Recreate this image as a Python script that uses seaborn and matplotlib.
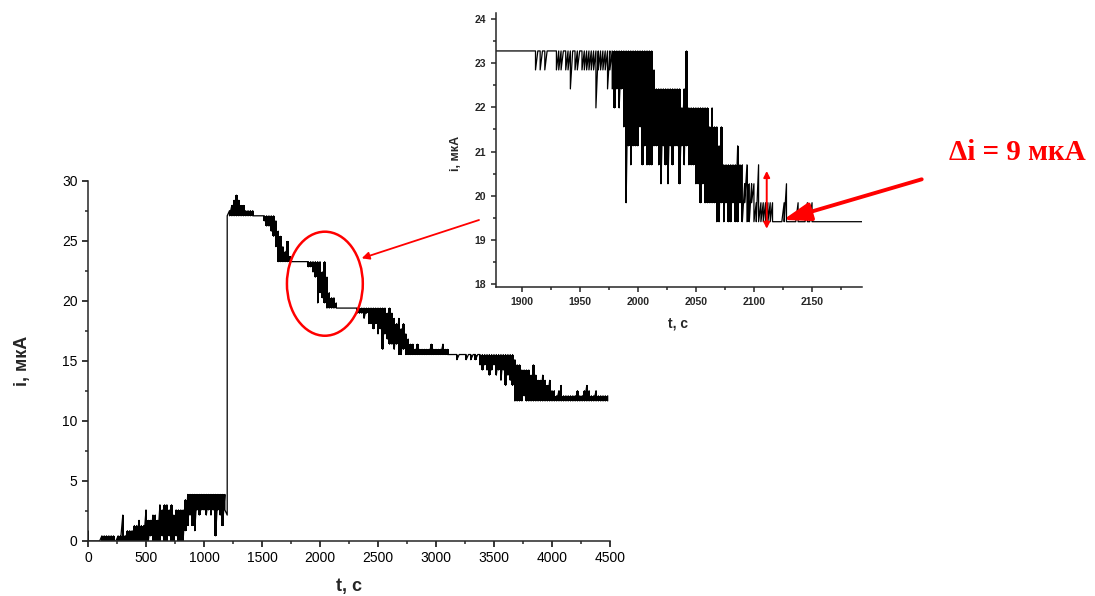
import numpy as np
import pandas as pd
import matplotlib
matplotlib.use("Agg")
import matplotlib.pyplot as plt
from matplotlib.patches import Ellipse
from matplotlib.ticker import MultipleLocator
import seaborn as sns

# main trace: 20 s bins from 0 to 4480 s, two readings per bin (edges of the noise band)
i_a = [0.86, 0, 0, 0, 0, 0, 0.43, 0.43, 0.43, 0.43,
       0.43, 0.43, 0, 0.43, 0.43, 2.16, 0.43, 0.86, 0.86, 0.86,
       1.29, 1.29, 1.72, 1.29, 1.29, 2.59, 1.72, 1.72, 2.16, 2.16,
       1.72, 3.02, 2.59, 3.02, 3.02, 2.59, 3.02, 2.16, 2.59, 2.59,
       2.59, 2.59, 3.45, 3.88, 3.88, 3.88, 3.88, 3.88, 3.88, 3.88,
       3.88, 3.88, 3.88, 3.88, 3.88, 3.88, 3.88, 3.88, 3.88, 3.88,
       2.16, 27.53, 27.96, 28.39, 28.82, 28.39, 27.96, 27.96, 27.53, 27.53,
       27.53, 27.53, 27.1, 27.1, 27.1, 27.1, 27.1, 27.1, 27.1, 27.1,
       27.1, 26.68, 25.82, 25.39, 24.53, 24.10, 24.96, 23.71, 23.28, 23.28,
       23.28, 23.28, 23.28, 23.28, 23.28, 23.28, 23.28, 23.28, 23.28, 23.28,
       23.28, 22.42, 23.28, 21.99, 20.70, 20.27, 20.27, 19.84, 19.41, 19.41,
       19.41, 19.41, 19.41, 19.41, 19.41, 19.41, 19.41, 19.41, 19.41, 19.41,
       19.41, 19.41, 19.41, 19.41, 19.41, 19.41, 19.41, 19.41, 19.41, 18.98,
       19.41, 18.98, 18.55, 18.12, 18.55, 17.69, 18.12, 17.26, 16.83, 16.40,
       16.40, 15.97, 16.40, 15.97, 15.97, 15.97, 15.97, 15.97, 16.40, 15.97,
       15.97, 15.97, 15.97, 16.40, 15.97, 15.97, 15.54, 15.54, 15.54, 15.54,
       15.54, 15.54, 15.54, 15.54, 15.54, 15.54, 15.54, 15.54, 15.54, 15.54,
       15.54, 15.54, 15.54, 15.54, 15.54, 15.54, 15.54, 15.54, 15.54, 15.54,
       15.54, 15.54, 15.54, 15.54, 15.11, 14.68, 14.68, 14.25, 14.25, 14.25,
       14.25, 13.82, 14.68, 13.82, 13.39, 13.39, 13.82, 13.39, 12.96, 13.39,
       12.53, 12.53, 12.10, 12.53, 12.96, 12.10, 12.10, 12.10, 12.10, 12.10,
       12.10, 12.53, 12.10, 12.10, 12.53, 12.96, 12.53, 12.10, 12.10, 12.53,
       12.10, 12.10, 12.10, 12.10, 12.10]
i_b = [0, 0, 0, 0, 0, 0, 0, 0, 0, 0,
       0, 0, 0, 0, 0, 0, 0, 0, 0, 0,
       0, 0, 0, 0, 0, 0, 0, 0.43, 0, 0,
       0, 0, 0.43, 0, 0, 0.43, 0, 0, 0.43, 0,
       0, 0, 0.86, 1.29, 2.16, 1.29, 0.86, 2.59, 2.16, 2.59,
       2.59, 2.16, 2.59, 2.16, 2.59, 0.43, 2.59, 2.16, 1.29, 2.59,
       27.1, 27.1, 27.1, 27.1, 27.1, 27.1, 27.1, 27.1, 27.1, 27.1,
       27.1, 27.1, 27.1, 27.1, 27.1, 27.1, 26.68, 26.25, 26.25, 25.82,
       25.39, 24.53, 23.28, 23.28, 23.28, 23.28, 23.28, 23.28, 23.28, 23.28,
       23.28, 23.28, 23.28, 23.28, 23.28, 22.85, 22.85, 22.42, 21.99, 19.84,
       20.70, 20.27, 19.84, 19.41, 19.41, 19.41, 19.41, 19.41, 19.41, 19.41,
       19.41, 19.41, 19.41, 19.41, 19.41, 19.41, 18.98, 18.98, 18.98, 18.55,
       18.98, 18.12, 18.12, 17.69, 18.12, 17.26, 17.69, 15.97, 17.26, 16.83,
       16.40, 16.40, 15.97, 16.40, 15.54, 15.54, 15.97, 15.54, 15.54, 15.54,
       15.54, 15.54, 15.54, 15.54, 15.54, 15.54, 15.54, 15.54, 15.54, 15.54,
       15.54, 15.54, 15.54, 15.54, 15.54, 15.54, 15.54, 15.54, 15.54, 15.11,
       15.54, 15.54, 15.54, 15.11, 15.54, 15.11, 15.54, 15.11, 15.54, 14.68,
       14.25, 14.68, 14.25, 13.82, 14.25, 14.68, 13.82, 14.25, 13.39, 14.25,
       12.96, 13.82, 13.39, 12.96, 11.67, 11.67, 11.67, 11.67, 12.10, 11.67,
       11.67, 11.67, 11.67, 11.67, 11.67, 11.67, 11.67, 11.67, 11.67, 11.67,
       11.67, 11.67, 11.67, 11.67, 11.67, 11.67, 11.67, 11.67, 11.67, 11.67,
       11.67, 11.67, 11.67, 11.67, 11.67, 11.67, 11.67, 11.67, 11.67, 11.67,
       11.67, 11.67, 11.67, 11.67, 11.67]
t_main = np.arange(0, 4481, 20)

# zoomed window: current levels of the ADC and 2 s bins from 1910 to 2152 s (level indices)
levels = [23.28, 22.85, 22.42, 21.99, 21.56, 21.13, 20.70, 20.27, 19.84, 19.41]
top_idx = [0, 0, 0, 0, 0, 0, 0, 0, 0, 0,
           0, 0, 0, 0, 0, 0, 0, 0, 0, 0,
           0, 0, 0, 0, 0, 0, 0, 0, 0, 0,
           0, 0, 0, 0, 0, 0, 0, 0, 0, 0,
           0, 0, 0, 0, 0, 0, 0, 0, 0, 0,
           0, 0, 1, 2, 2, 2, 2, 2, 2, 2,
           2, 2, 2, 2, 3, 2, 0, 3, 3, 3,
           3, 3, 3, 3, 3, 3, 4, 3, 4, 4,
           5, 4, 6, 6, 6, 6, 6, 6, 5, 6,
           6, 7, 6, 7, 7, 7, 8, 6, 8, 8,
           8, 8, 8, 8, 9, 9, 9, 9, 8, 7,
           9, 9, 9, 9, 8, 9, 9, 9, 8, 9,
           8, 9]
bot_idx = [0, 1, 0, 1, 0, 1, 0, 0, 0, 0,
           1, 1, 1, 0, 1, 1, 2, 0, 1, 1,
           0, 1, 1, 1, 1, 1, 1, 3, 1, 1,
           1, 1, 2, 1, 2, 3, 2, 3, 2, 4,
           8, 5, 6, 5, 5, 5, 4, 6, 5, 6,
           6, 6, 5, 5, 6, 7, 5, 6, 7, 5,
           6, 5, 5, 7, 5, 6, 5, 6, 6, 6,
           7, 7, 8, 7, 8, 8, 8, 8, 8, 9,
           9, 8, 9, 8, 9, 9, 8, 9, 9, 8,
           9, 8, 9, 9, 8, 9, 9, 9, 9, 9,
           9, 9, 9, 9, 9, 9, 9, 9, 9, 9,
           9, 9, 9, 9, 9, 9, 9, 9, 9, 9,
           9, 9]
t_zoom = [1870] + list(range(1910, 2154, 2)) + [2200]

main = pd.DataFrame({"t": np.repeat(t_main, 2),
                     "i": np.column_stack([i_a, i_b]).ravel()})
top = [levels[0]] + [levels[k] for k in top_idx] + [levels[9]]
bot = [levels[0]] + [levels[k] for k in bot_idx] + [levels[9]]
zoom = pd.DataFrame({"t": np.repeat(t_zoom, 2),
                     "i": np.column_stack([top, bot]).ravel()})

sns.set_style("ticks")
plt.rcParams["font.family"] = ["Liberation Sans", "DejaVu Sans"]
plt.rcParams["axes.linewidth"] = 1.1

fig = plt.figure(figsize=(10.95, 5.96), dpi=100)

# main plot
ax = fig.add_axes([88 / 1095, 55 / 596, 522 / 1095, 360 / 596])
band_hi = np.maximum(i_a, i_b)
band_lo = np.minimum(i_a, i_b)
ax.fill_between(t_main, band_lo, band_hi, where=(band_hi - band_lo) < 10,
                step="mid", color="black", lw=0)
sns.lineplot(data=main, x="t", y="i", estimator=None, sort=False,
             color="black", lw=0.9, ax=ax)
ax.set_xlim(0, 4500)
ax.set_ylim(0, 30)
ax.xaxis.set_major_locator(MultipleLocator(500))
ax.xaxis.set_minor_locator(MultipleLocator(250))
ax.yaxis.set_major_locator(MultipleLocator(5))
ax.yaxis.set_minor_locator(MultipleLocator(2.5))
ax.tick_params(which="major", direction="out", length=4, width=1.1,
               labelsize=10, colors="black")
ax.tick_params(which="minor", direction="out", length=2.5, width=1.1)
sns.despine(ax=ax)
ax.set_xlabel("t, с", fontsize=13, fontweight="bold")
ax.set_ylabel("i, мкА", fontsize=13, fontweight="bold")
ax.xaxis.set_label_coords(0.5, -0.103)
ax.yaxis.set_label_coords(-0.11, 0.5)

ax.add_patch(Ellipse((2042, 21.44), 654, 8.67, fill=False,
                     ec="red", lw=1.8, zorder=5))

# inset
axin = fig.add_axes([496 / 1095, 309 / 596, 366 / 1095, 274 / 596])
axin.set_facecolor("white")
span = np.array(top) - np.array(bot)
axin.fill_between(t_zoom, bot, top, where=span > 0.5, step="mid",
                  color="black", lw=0)
sns.lineplot(data=zoom, x="t", y="i", estimator=None, sort=False,
             color="black", lw=0.9, ax=axin)
axin.set_xlim(1878, 2193)
axin.set_ylim(17.93, 24.14)
axin.xaxis.set_major_locator(MultipleLocator(50))
axin.xaxis.set_minor_locator(MultipleLocator(25))
axin.yaxis.set_major_locator(MultipleLocator(1))
axin.yaxis.set_minor_locator(MultipleLocator(0.5))
axin.tick_params(which="major", direction="out", length=3.5, width=1.1,
                 labelsize=7.5)
axin.tick_params(which="minor", direction="out", length=2, width=1.1)
plt.setp(axin.get_xticklabels() + axin.get_yticklabels(), fontweight="bold")
sns.despine(ax=axin)
axin.set_xlabel("t, с", fontsize=10, fontweight="bold")
axin.set_ylabel("i, мкА", fontsize=9, fontweight="bold")
axin.xaxis.set_label_coords(0.497, -0.106)
axin.yaxis.set_label_coords(-0.093, 0.489)

# double arrow for the current step
axin.annotate("", xy=(2111, 20.56), xytext=(2111, 19.25),
              arrowprops=dict(arrowstyle="<|-|>", color="red", lw=1.4,
                              mutation_scale=9, shrinkA=0, shrinkB=0))

# arrow from the inset to the circled region
ax.annotate("", xy=(361.7 / 1095, 1 - 258.3 / 596), xycoords="figure fraction",
            xytext=(479 / 1095, 1 - 220 / 596), textcoords="figure fraction",
            arrowprops=dict(arrowstyle="-|>", color="red", lw=1.3,
                            mutation_scale=11, shrinkA=0, shrinkB=0),
            annotation_clip=False, zorder=6)

# thick arrow from the label to the final level
axin.annotate("", xy=(2125, 19.45),
              xytext=(921.7 / 1095, 1 - 179.3 / 596), textcoords="figure fraction",
              arrowprops=dict(arrowstyle="-|>,head_length=0.75,head_width=0.25",
                              color="red", lw=2.8, mutation_scale=22,
                              shrinkA=0, shrinkB=0),
              annotation_clip=False, zorder=6)

fig.text(1017 / 1095, 1 - 153 / 596, "Δi = 9 мкА", color="red", fontsize=21,
         fontweight="bold", family=["Liberation Serif", "DejaVu Serif"],
         ha="center", va="center")

fig.savefig("out.png", dpi=100)
